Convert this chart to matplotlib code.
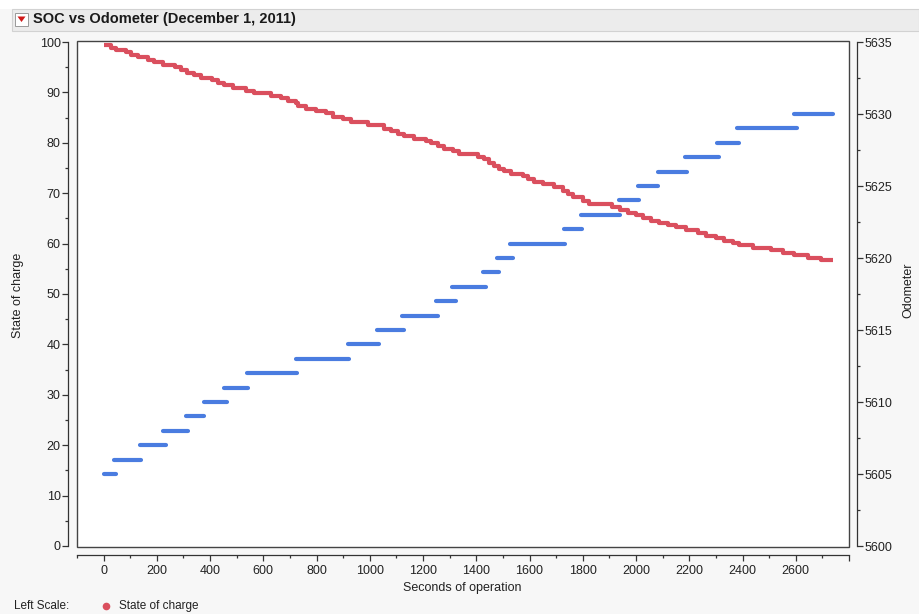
import matplotlib
matplotlib.use("Agg")
import matplotlib.pyplot as plt
from matplotlib.patches import Rectangle, Polygon
from matplotlib.lines import Line2D
from matplotlib.ticker import MultipleLocator

plt.rcParams['font.family'] = ['Liberation Sans', 'DejaVu Sans']

# ---------------- data ----------------
title = "SOC vs Odometer (December 1, 2011)"
x_label = "Seconds of operation"
left_label = "State of charge"
right_label = "Odometer"

# State of charge: step levels (start time of each level, level)
soc_t = [0, 26, 45, 83, 101, 128, 165, 188, 222, 270, 289, 312, 338, 364, 409, 428,
         451, 485, 533, 564, 627, 665, 691, 721, 732, 759, 796, 834, 860, 898, 930,
         995, 1052, 1078, 1104, 1127, 1165, 1210, 1228, 1255, 1277, 1311, 1334, 1405,
         1428, 1446, 1465, 1484, 1503, 1529, 1574, 1593, 1615, 1649, 1690, 1724, 1743,
         1762, 1799, 1822, 1910, 1938, 1970, 1999, 2025, 2055, 2085, 2119, 2149, 2186,
         2231, 2261, 2299, 2329, 2363, 2386, 2438, 2506, 2551, 2592, 2645, 2693]
soc_v = [99.4, 98.9, 98.4, 98.0, 97.4, 97.0, 96.4, 96.0, 95.4, 95.0, 94.4, 93.9, 93.5,
         92.9, 92.5, 91.9, 91.5, 90.8, 90.3, 89.9, 89.3, 88.8, 88.2, 87.8, 87.3, 86.8,
         86.3, 85.9, 85.2, 84.7, 84.1, 83.5, 82.8, 82.3, 81.8, 81.3, 80.8, 80.4, 79.9,
         79.4, 78.8, 78.3, 77.8, 77.2, 76.7, 75.9, 75.3, 74.8, 74.4, 73.9, 73.4, 72.8,
         72.3, 71.8, 71.2, 70.5, 69.8, 69.2, 68.5, 67.9, 67.2, 66.7, 66.1, 65.6, 65.1,
         64.5, 64.1, 63.7, 63.2, 62.6, 62.2, 61.6, 61.1, 60.6, 60.1, 59.7, 59.1, 58.7,
         58.2, 57.7, 57.1, 56.7]
soc_end_t = 2739

# Odometer: value held over [start, end] seconds
odo_values = [5605, 5606, 5607, 5608, 5609, 5610, 5611, 5612, 5613, 5614, 5615, 5616,
              5617, 5618, 5619, 5620, 5621, 5622, 5623, 5624, 5625, 5626, 5627, 5628,
              5629, 5630]
odo_start = [0, 38, 135, 222, 308, 376, 451, 537, 722, 917, 1026, 1120, 1248, 1308,
             1425, 1477, 1526, 1729, 1793, 1936, 2008, 2083, 2184, 2305, 2380, 2594]
odo_end = [45, 140, 233, 316, 376, 462, 541, 726, 921, 1034, 1128, 1256, 1323, 1436,
           1485, 1538, 1733, 1797, 1940, 2011, 2083, 2192, 2312, 2387, 2605, 2741]

x_ticks = [0, 200, 400, 600, 800, 1000, 1200, 1400, 1600, 1800, 2000, 2200, 2400, 2600, 2800]
x_tick_labels = ["0", "200", "400", "600", "800", "1000", "1200", "1400", "1600", "1800",
                 "2000", "2200", "2400", "2600", ""]
left_ticks = [0, 10, 20, 30, 40, 50, 60, 70, 80, 90, 100]
right_ticks = [5600, 5605, 5610, 5615, 5620, 5625, 5630, 5635]

RED = "#da4f5e"
BLUE = "#4a7ce0"
AX = "#333333"
TXT = "#222222"

W, H = 919, 614
fig = plt.figure(figsize=(W / 100, H / 100), dpi=100)
fig.patch.set_facecolor("#f7f7f7")


def fx(px):
    return px / W


def fy(py):
    return 1 - py / H


# header decorations
fig.add_artist(Rectangle((0, fy(9)), 1, 9 / H, transform=fig.transFigure,
                         facecolor="white", edgecolor="none"))
fig.add_artist(Rectangle((fx(12), fy(31)), fx(W - 12), 22 / H, transform=fig.transFigure,
                         facecolor="#ececec", edgecolor="#d2d2d2", linewidth=0.8))
fig.add_artist(Rectangle((fx(15), fy(26)), 13 / W, 13 / H, transform=fig.transFigure,
                         facecolor="white", edgecolor="#9a9a9a", linewidth=0.7))
fig.add_artist(Polygon([(fx(17.5), fy(16.5)), (fx(25.5), fy(16.5)), (fx(21.5), fy(22))],
                       closed=True, transform=fig.transFigure, facecolor="#d01818",
                       edgecolor="none"))
fig.text(fx(33), fy(19.5), title, fontsize=10.5, fontweight="bold", color="#1a1a1a",
         va="center", ha="left")

# main axes
L, R, T, B = 77, 849, 41, 547
ax = fig.add_axes([fx(L), fy(B), (R - L) / W, (B - T) / H])
ax.patch.set_visible(False)
ax.add_patch(Rectangle((0, 0), 1, 1, transform=ax.transAxes, facecolor="white",
                       edgecolor="#444444", linewidth=1.0, zorder=0, clip_on=False))

# SOC step series
xs = []
ys = []
for i, (t, v) in enumerate(zip(soc_t, soc_v)):
    t_next = soc_t[i + 1] if i + 1 < len(soc_t) else soc_end_t
    xs += [t, t_next]
    ys += [v, v]
ax.plot(xs, ys, color=RED, linewidth=3.0, solid_capstyle="butt", zorder=3)

ax.set_xlim(-100, 2800)
ax.set_ylim(-0.2, 100.2)

for s in ["top", "right"]:
    ax.spines[s].set_visible(False)
ax.spines["left"].set_position(("outward", 6.5))
ax.spines["bottom"].set_position(("outward", 6))
ax.spines["left"].set_bounds(0, 100)
ax.spines["bottom"].set_bounds(-100, 2800)
for s in ["left", "bottom"]:
    ax.spines[s].set_color(AX)
    ax.spines[s].set_linewidth(0.9)

ax.set_xticks(x_ticks)
ax.set_xticklabels(x_tick_labels)
ax.xaxis.set_minor_locator(MultipleLocator(100))
ax.set_yticks(left_ticks)
ax.yaxis.set_minor_locator(MultipleLocator(5))
ax.tick_params(axis="x", which="major", length=4.2, width=0.9, color=AX, pad=3,
               labelsize=9, labelcolor=TXT)
ax.tick_params(axis="x", which="minor", length=2.5, width=0.9, color=AX)
ax.tick_params(axis="y", which="major", length=4.2, width=0.9, color=AX, pad=1,
               labelsize=9, labelcolor=TXT)
ax.tick_params(axis="y", which="minor", length=2.5, width=0.9, color=AX)

# right axis: odometer
ax2 = ax.twinx()
ax2.patch.set_visible(False)
for i in range(len(odo_values)):
    ax2.plot([odo_start[i], odo_end[i]], [odo_values[i], odo_values[i]], color=BLUE,
             linewidth=3.0, solid_capstyle="round", zorder=3)
ax2.set_ylim(5600 - 1 / 14.4, 5635 + 1 / 14.4)
for s in ["top", "left", "bottom"]:
    ax2.spines[s].set_visible(False)
ax2.spines["right"].set_position(("outward", 6))
ax2.spines["right"].set_bounds(5600, 5635)
ax2.spines["right"].set_color(AX)
ax2.spines["right"].set_linewidth(0.9)
ax2.set_yticks(right_ticks)
ax2.yaxis.set_minor_locator(MultipleLocator(2.5))
ax2.tick_params(axis="y", which="major", length=4.2, width=0.9, color=AX, pad=1,
                labelsize=9, labelcolor=TXT)
ax2.tick_params(axis="y", which="minor", length=2.5, width=0.9, color=AX)

# axis labels
fig.text(fx(462), fy(588), x_label, fontsize=9, color=TXT, ha="center", va="center")
fig.text(fx(18), fy(295), left_label, fontsize=9, color=TXT, ha="center", va="center",
         rotation=90)
fig.text(fx(908), fy(290), right_label, fontsize=9, color=TXT, ha="center", va="center",
         rotation=90)

# legend
fig.text(fx(14), fy(606), "Left Scale:", fontsize=8.5, color=TXT, ha="left", va="center")
fig.add_artist(Line2D([fx(106)], [fy(606)], transform=fig.transFigure, marker="o",
                      markersize=5.5, markerfacecolor=RED, markeredgecolor="none",
                      linestyle="none"))
fig.text(fx(119), fy(606), left_label, fontsize=8.5, color=TXT, ha="left", va="center")

fig.savefig("out.png", dpi=100, facecolor=fig.get_facecolor())
